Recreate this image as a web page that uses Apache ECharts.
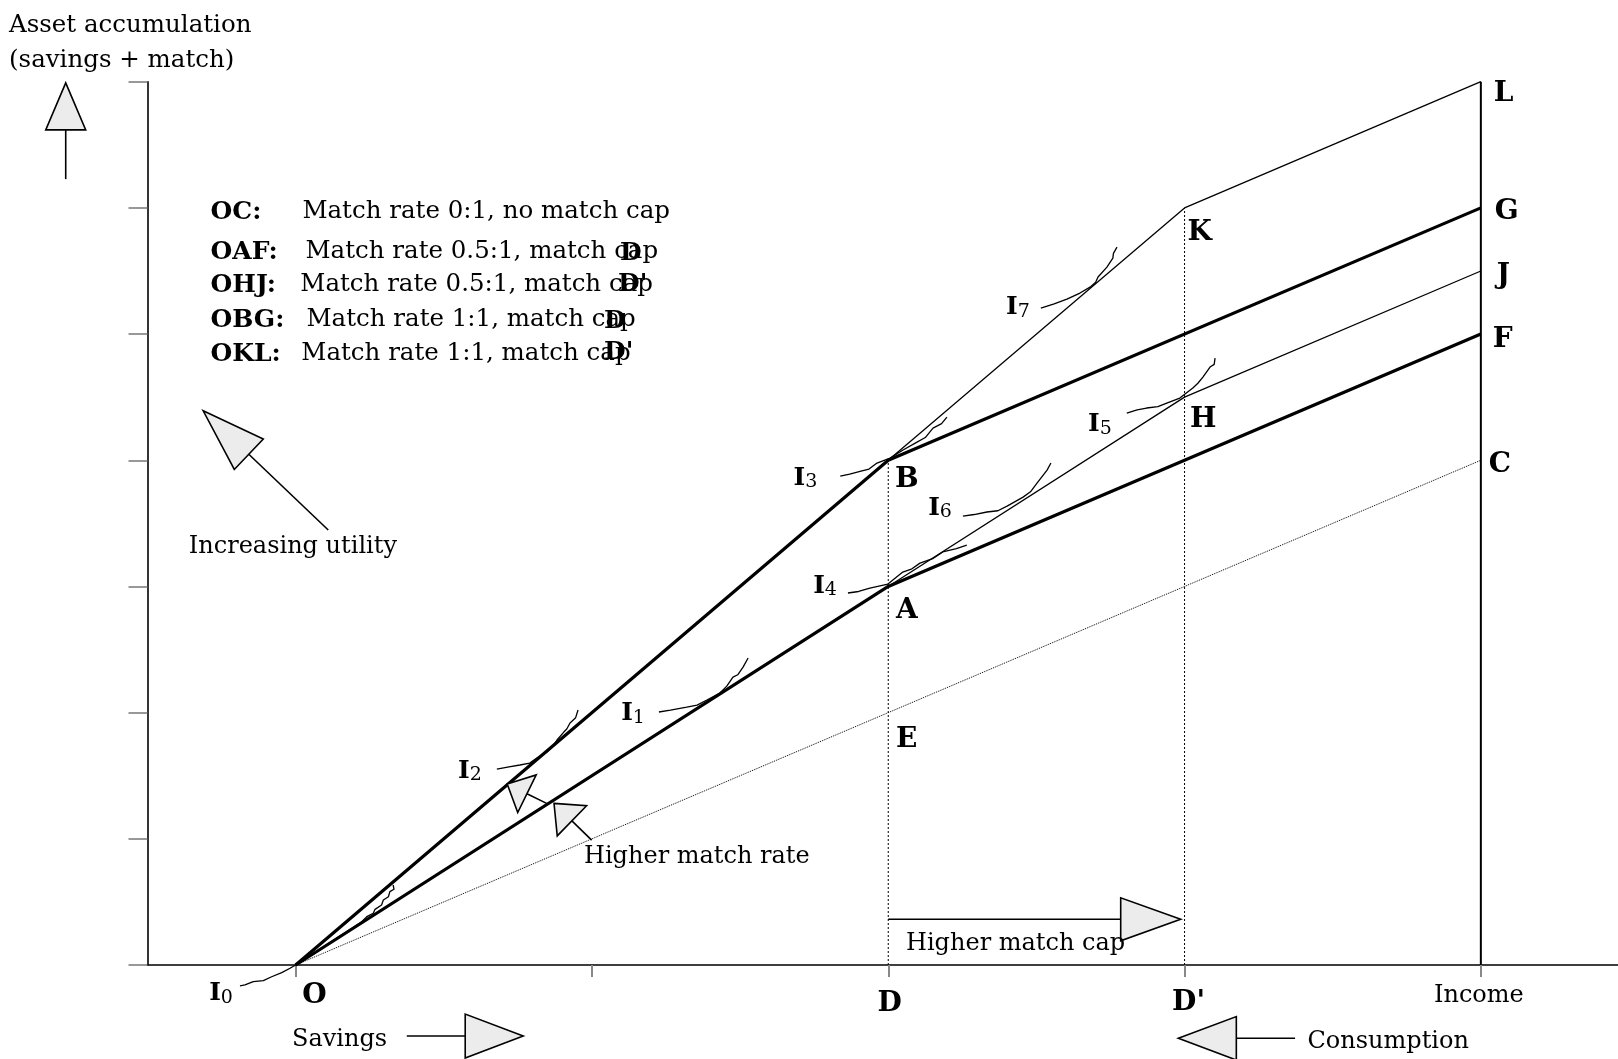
<!DOCTYPE html>
<html>
<head>
<meta charset="utf-8">
<script src="https://cdn.jsdelivr.net/npm/echarts@6/dist/echarts.min.js"></script>
<style>
html, body { margin: 0; padding: 0; background: #fff; }
#chart { width: 1618px; height: 1059px; }
</style>
</head>
<body>
<div id="chart"></div>
<script>
// budget constraints (x: savings position, y: asset accumulation)
var lineOC  = [[1, 0], [5, 4]];
var lineOAF = [[1, 0], [3, 3], [5, 5]];
var lineOHJ = [[1, 0], [3, 3], [4, 4.5], [5, 5.5]];
var lineOBG = [[1, 0], [3, 4], [5, 6]];
var lineOKL = [[1, 0], [3, 4], [4, 6], [5, 7]];
var capD    = [[3, 0], [3, 4]];
var capD2   = [[4, 0], [4, 6]];
var incomeLine = [[5, 0], [5, 7]];

var xTicks = [1, 2, 3, 4, 5];

// labelled points
var pointNames  = ['O', 'A', 'B', 'C', 'E', 'F', 'G', 'H', 'J', 'K', 'L', 'D', "D'", 'Income'];
var pointCoords = [[1, 0], [3, 3], [3, 4], [5, 4], [3, 2], [5, 5], [5, 6], [4, 4.5], [5, 5.5], [4, 6], [5, 7], [3, 0], [4, 0], [5, 0]];

// indifference curves (hand drawn in the original)
var curveI0 = [[0.812, -0.166], [0.829, -0.158], [0.857, -0.132], [0.891, -0.124], [0.919, -0.093], [0.953, -0.061], [0.981, -0.026], [1, 0],
  [1.223, 0.343], [1.240, 0.383], [1.262, 0.410], [1.268, 0.441], [1.290, 0.475], [1.296, 0.515], [1.313, 0.541], [1.318, 0.581], [1.332, 0.600], [1.329, 0.634]];
var curveI1 = [[2.226, 2.005], [2.265, 2.020], [2.320, 2.044], [2.355, 2.060], [2.388, 2.100], [2.432, 2.155], [2.455, 2.210], [2.476, 2.282], [2.492, 2.300], [2.510, 2.361], [2.527, 2.433]];
var curveI2 = [[1.679, 1.553], [1.720, 1.570], [1.757, 1.585], [1.790, 1.600], [1.814, 1.640], [1.848, 1.688], [1.870, 1.740], [1.882, 1.783], [1.905, 1.846], [1.915, 1.870], [1.926, 1.918], [1.945, 1.960], [1.953, 2.021]];
var curveI3 = [[2.838, 3.875], [2.870, 3.890], [2.908, 3.914], [2.935, 3.930], [2.962, 3.978], [3.006, 4.017], [3.050, 4.081], [3.097, 4.144], [3.125, 4.180], [3.151, 4.255], [3.180, 4.290], [3.198, 4.342]];
var curveI4 = [[2.864, 2.948], [2.900, 2.960], [2.938, 2.987], [2.999, 3.019], [3.049, 3.114], [3.080, 3.140], [3.107, 3.185], [3.150, 3.220], [3.184, 3.273], [3.230, 3.300], [3.265, 3.328]];
var curveI5 = [[3.805, 4.374], [3.840, 4.400], [3.872, 4.414], [3.910, 4.425], [3.940, 4.453], [3.984, 4.493], [4.028, 4.572], [4.045, 4.610], [4.062, 4.659], [4.086, 4.739], [4.100, 4.760], [4.103, 4.810]];
var curveI6 = [[3.252, 3.558], [3.290, 3.570], [3.333, 3.590], [3.370, 3.600], [3.401, 3.637], [3.455, 3.708], [3.480, 3.750], [3.502, 3.819], [3.536, 3.922], [3.549, 3.978]];
var curveI7 = [[3.515, 5.206], [3.560, 5.240], [3.603, 5.277], [3.647, 5.325], [3.681, 5.372], [3.700, 5.410], [3.708, 5.452], [3.738, 5.531], [3.758, 5.602], [3.760, 5.640], [3.772, 5.689]];
var curves = [curveI0, curveI1, curveI2, curveI3, curveI4, curveI5, curveI6, curveI7];
var curveNames = ['0', '1', '2', '3', '4', '5', '6', '7'];

// arrows: tail and tip in data space
var arrowTails = [[0.224, 6.228], [1.110, 3.447], [1.847, 1.281], [1.999, 0.990], [3.0, 0.362], [1.375, -0.563], [4.373, -0.581]];
var arrowTips  = [[0.224, 6.991], [0.688, 4.392], [1.714, 1.434], [1.872, 1.281], [3.987, 0.362], [1.768, -0.563], [3.979, -0.581]];

// ---- style only below ----
var arrowHeads = [[47, 20], [63, 21], [22, 21], [25, 21], [60, 21.5], [58, 22], [58, 21.7]];
var labelOffsets = {
  'O': [6.7, 30.7], 'A': [7.7, 24.4], 'B': [6.7, 19.7], 'C': [8, 4.8], 'E': [7.7, 27.2],
  'F': [12, 5.9], 'G': [14, 4], 'H': [5.4, 23], 'J': [16, 5], 'K': [3, 25], 'L': [13, 12],
  'D': [1.5, 39], "D'": [4, 38], 'Income': [-2, 31]
};
var curveLabelOffsets = [[-7, 8], [-14, 2], [-15, 2], [-23, 2], [-11, -7], [-15, 11], [-11, -8], [-11, -1]];

var SERIF = 'DejaVu Serif';

function polyline(data, width, type, z) {
  return {
    type: 'line', data: data, showSymbol: false, symbol: 'none', clip: false, silent: true, z: z,
    lineStyle: { width: width, type: type, color: '#000' }
  };
}

var series = [
  polyline(lineOC, 1, 'dotted', 2),
  polyline(capD, 1, [2, 2], 2),
  polyline(capD2, 1, [2, 2], 2),
  polyline(incomeLine, 2, 'solid', 3),
  polyline(lineOHJ, 1.3, 'solid', 3),
  polyline(lineOKL, 1.3, 'solid', 3),
  polyline(lineOAF, 3.2, 'solid', 4),
  polyline(lineOBG, 3.2, 'solid', 4)
];

curves.forEach(function (c) {
  series.push(polyline(c, 1.3, 'solid', 5));
});

// point letters
series.push({
  type: 'scatter', silent: true, clip: false, symbolSize: 1, z: 6,
  itemStyle: { color: 'rgba(0,0,0,0)', opacity: 1 },
  data: pointNames.map(function (n, i) {
    var centred = (n === 'D' || n === "D'" || n === 'Income');
    return {
      name: n, value: pointCoords[i],
      label: {
        offset: labelOffsets[n], align: centred ? 'center' : 'left',
        fontWeight: n === 'Income' ? 'normal' : 'bold',
        fontSize: n === 'Income' ? 24 : 28
      }
    };
  }),
  label: {
    show: true, position: 'inside', verticalAlign: 'middle', formatter: '{b}',
    fontFamily: SERIF, color: '#000', opacity: 1
  }
});

// indifference curve names
series.push({
  type: 'scatter', silent: true, clip: false, symbolSize: 1, z: 6,
  itemStyle: { color: 'rgba(0,0,0,0)', opacity: 1 },
  data: curves.map(function (c, i) {
    return { name: curveNames[i], value: c[0], label: { offset: curveLabelOffsets[i] } };
  }),
  label: {
    show: true, position: 'inside', align: 'right', verticalAlign: 'middle', opacity: 1,
    formatter: function (p) { return '{i|I}{s|' + p.name + '}'; },
    rich: {
      i: { fontFamily: SERIF, fontWeight: 'bold', fontSize: 25, color: '#000', lineHeight: 28 },
      s: { fontFamily: SERIF, fontSize: 19, color: '#000', lineHeight: 20, verticalAlign: 'bottom' }
    }
  }
});

// arrows
series.push({
  type: 'custom', coordinateSystem: 'cartesian2d', silent: true, clip: false, z: 7,
  encode: { x: [0, 2], y: [1, 3] },
  data: arrowTails.map(function (t, i) { return [t[0], t[1], arrowTips[i][0], arrowTips[i][1]]; }),
  renderItem: function (params, api) {
    var p0 = api.coord([api.value(0), api.value(1)]);
    var p1 = api.coord([api.value(2), api.value(3)]);
    var head = arrowHeads[params.dataIndex];
    var dx = p1[0] - p0[0], dy = p1[1] - p0[1];
    var L = Math.sqrt(dx * dx + dy * dy);
    var ux = dx / L, uy = dy / L;
    var bx = p1[0] - ux * head[0], by = p1[1] - uy * head[0];
    var nx = -uy * head[1], ny = ux * head[1];
    return {
      type: 'group',
      children: [
        { type: 'line', shape: { x1: p0[0], y1: p0[1], x2: bx, y2: by }, style: { stroke: '#000', lineWidth: 1.6 } },
        { type: 'polygon', shape: { points: [[p1[0], p1[1]], [bx + nx, by + ny], [bx - nx, by - ny]] },
          style: { fill: '#ececec', stroke: '#000', lineWidth: 1.6 } }
      ]
    };
  }
});

function txt(s, x, y, size, bold, align) {
  return {
    type: 'text', x: x, y: y, silent: true, z: 10,
    style: {
      text: s, fill: '#000', align: align || 'left', verticalAlign: 'middle',
      font: (bold ? 'bold ' : '') + size + 'px "' + SERIF + '"'
    }
  };
}

var graphics = [
  txt('Asset accumulation', 9, 26, 24.5),
  txt('(savings + match)', 9, 61, 24.5),
  txt('OC:', 210.5, 212, 25, true),
  txt('Match rate 0:1, no match cap', 302.4, 212, 24.5),
  txt('OAF:', 210.5, 252, 25, true),
  txt('Match rate 0.5:1, match cap', 305.5, 252, 24.5),
  txt('OHJ:', 210.5, 285, 25, true),
  txt('Match rate 0.5:1, match cap', 300.3, 285, 24.5),
  txt('OBG:', 210.5, 320, 25, true),
  txt('Match rate 1:1, match cap', 306.5, 320, 24.5),
  txt('OKL:', 210.5, 354, 25, true),
  txt('Match rate 1:1, match cap', 301.3, 354, 24.5),
  txt('D', 620, 253, 25, true),
  txt("D'", 618, 284, 25, true),
  txt('D', 604, 321, 25, true),
  txt("D'", 604, 352, 25, true),
  txt('Increasing utility', 188.8, 547, 24),
  txt('Higher match rate', 584, 857, 24),
  txt('Higher match cap', 906, 944, 24),
  txt('Savings', 292, 1039.5, 24),
  txt('Consumption', 1307.5, 1041.5, 24)
];

var chart = echarts.init(document.getElementById('chart'), null, { renderer: 'canvas' });
chart.setOption({
  animation: false,
  backgroundColor: '#fff',
  grid: { left: 147.5, top: 81.7, width: 1481.5, height: 883.3, outerBoundsMode: 'none' },
  xAxis: {
    type: 'value', min: 0.5, max: 5.5,
    axisLine: { show: true, onZero: false, lineStyle: { color: '#000', width: 1.6 } },
    axisTick: { show: true, customValues: xTicks, length: 12, lineStyle: { color: '#888', width: 2 } },
    axisLabel: { show: false },
    splitLine: { show: false }
  },
  yAxis: {
    type: 'value', min: 0, max: 7, interval: 1,
    axisLine: { show: true, onZero: false, lineStyle: { color: '#000', width: 1.6 } },
    axisTick: { show: true, length: 19, lineStyle: { color: '#777', width: 1.5 } },
    axisLabel: { show: false },
    splitLine: { show: false }
  },
  graphic: graphics,
  series: series
});
</script>
</body>
</html>
